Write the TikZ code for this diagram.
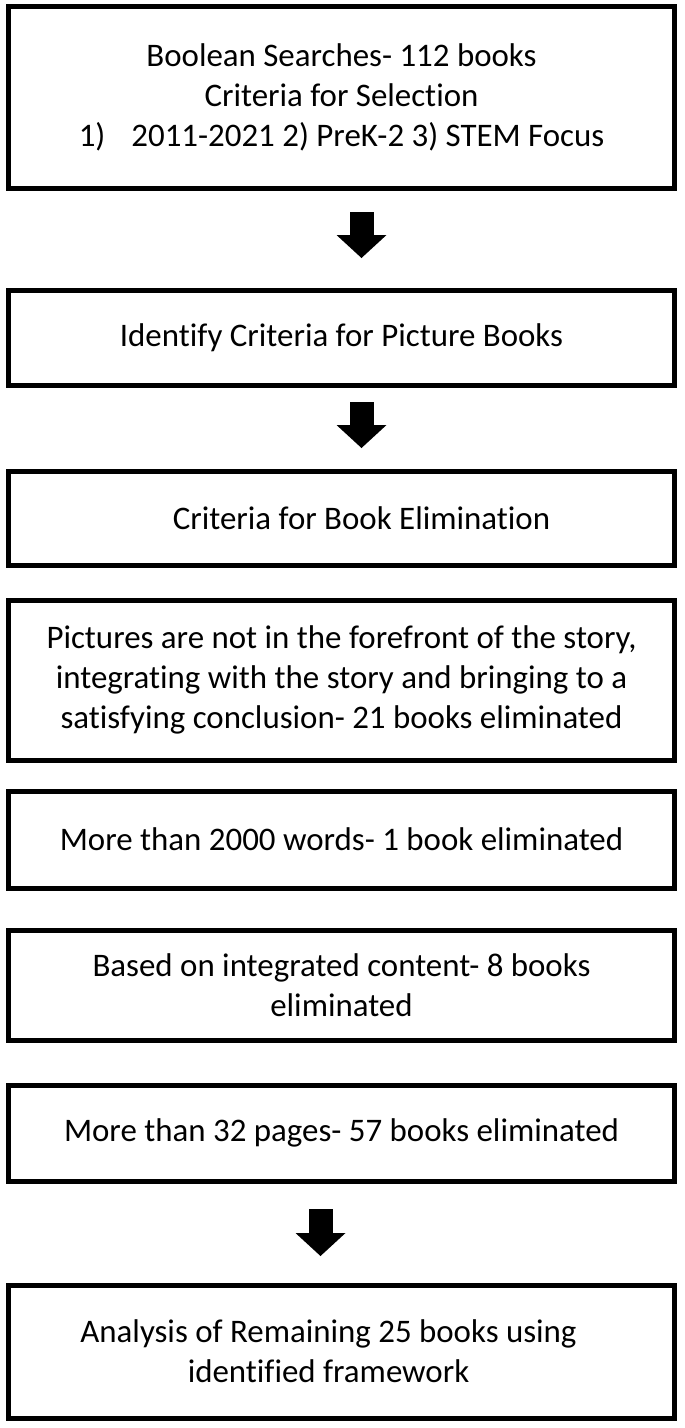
\documentclass[tikz,border=0pt]{standalone}
\usepackage{fontspec}
\setmainfont{Carlito}[Ligatures=NoCommon]
\usepackage{tikz}
\usetikzlibrary{arrows.meta,positioning}

\begin{document}
\begin{tikzpicture}[
  stage/.style={draw=black, line width=1.25mm, outer sep=0pt, minimum width=166.5mm,
                align=center, font=\fontsize{23.4}{28.5}\selectfont},
  blk/.style={line width=6mm, -{Triangle[width=12.5mm, length=5.75mm, line width=0pt]}}
]
  \useasboundingbox (0,0) rectangle (171.25mm,-357mm);
  \node[stage, minimum height=45.5mm] (search) at (85.375mm,-24.25mm) {Boolean Searches- 112 books\\Criteria for Selection\\1)\hspace*{6.5mm}2011-2021 2) PreK-2 3) STEM Focus};
  \node[stage, minimum height=23.75mm, below=25.5mm of search] (identify) {Identify Criteria for Picture Books};
  \node[stage, minimum height=23.5mm, below=21.5mm of identify] (elim) {\hspace*{10mm}Criteria for Book Elimination};
  \node[stage, minimum height=40mm, below=8.75mm of elim] (pics) {Pictures are not in the forefront of the story,\\integrating with the story and bringing to a\\satisfying conclusion- 21 books eliminated};
  \node[stage, minimum height=24.25mm, below=7.75mm of pics] (words) {More than 2000 words- 1 book eliminated};
  \node[stage, minimum height=27.5mm, below=10.5mm of words] (content) {Based on integrated content- 8 books\\eliminated};
  \node[stage, minimum height=24mm, below=11.25mm of content] (pages) {More than 32 pages- 57 books eliminated};
  \node[stage, minimum height=33.25mm, below=26mm of pages] (remain) {\hspace*{-6.5mm}Analysis of Remaining 25 books using\\\hspace*{-6.5mm}identified framework};

  \draw[blk, shorten <=6mm, shorten >=8mm] ([xshift=5mm]search.south) -- ([xshift=5mm]identify.north);
  \draw[blk, shorten <=4.25mm, shorten >=5.75mm] ([xshift=5mm]identify.south) -- ([xshift=5mm]elim.north);
  \draw[blk, shorten <=7mm, shorten >=7.25mm] ([xshift=-5.25mm]pages.south) -- ([xshift=-5.25mm]remain.north);
\end{tikzpicture}
\end{document}
